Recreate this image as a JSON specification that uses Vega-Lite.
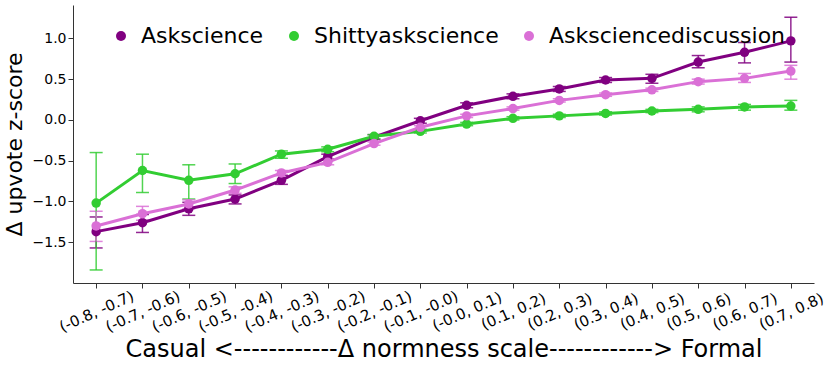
{
  "$schema": "https://vega.github.io/schema/vega-lite/v6.json",
  "width": 741,
  "height": 278,
  "autosize": {"type": "none"},
  "padding": {"left": 73, "top": 5, "right": 17, "bottom": 84},
  "config": {
    "font": "DejaVu Sans",
    "view": {"stroke": null},
    "axis": {"grid": false, "domainColor": "#333", "tickColor": "#333", "labelColor": "#000", "titleColor": "#000", "titleFontWeight": "normal", "domainWidth": 1, "tickWidth": 1, "tickSize": 5}
  },
  "data": {"values": [
    {"bin": "(-0.8, -0.7)", "s": "Askscience", "m": -1.37, "lo": -1.57, "hi": -1.19},
    {"bin": "(-0.7, -0.6)", "s": "Askscience", "m": -1.26, "lo": -1.38, "hi": -1.16},
    {"bin": "(-0.6, -0.5)", "s": "Askscience", "m": -1.09, "lo": -1.17, "hi": -1.01},
    {"bin": "(-0.5, -0.4)", "s": "Askscience", "m": -0.97, "lo": -1.03, "hi": -0.92},
    {"bin": "(-0.4, -0.3)", "s": "Askscience", "m": -0.74, "lo": -0.79, "hi": -0.68},
    {"bin": "(-0.3, -0.2)", "s": "Askscience", "m": -0.45, "lo": -0.48, "hi": -0.42},
    {"bin": "(-0.2, -0.1)", "s": "Askscience", "m": -0.21, "lo": -0.24, "hi": -0.18},
    {"bin": "(-0.1, -0.0)", "s": "Askscience", "m": -0.01, "lo": -0.04, "hi": 0.02},
    {"bin": "(-0.0, 0.1)", "s": "Askscience", "m": 0.18, "lo": 0.15, "hi": 0.21},
    {"bin": "(0.1, 0.2)", "s": "Askscience", "m": 0.29, "lo": 0.26, "hi": 0.32},
    {"bin": "(0.2, 0.3)", "s": "Askscience", "m": 0.38, "lo": 0.35, "hi": 0.41},
    {"bin": "(0.3, 0.4)", "s": "Askscience", "m": 0.49, "lo": 0.46, "hi": 0.52},
    {"bin": "(0.4, 0.5)", "s": "Askscience", "m": 0.51, "lo": 0.45, "hi": 0.56},
    {"bin": "(0.5, 0.6)", "s": "Askscience", "m": 0.71, "lo": 0.64, "hi": 0.79},
    {"bin": "(0.6, 0.7)", "s": "Askscience", "m": 0.83, "lo": 0.70, "hi": 0.95},
    {"bin": "(0.7, 0.8)", "s": "Askscience", "m": 0.97, "lo": 0.71, "hi": 1.26},
    {"bin": "(-0.8, -0.7)", "s": "Shittyaskscience", "m": -1.02, "lo": -1.84, "hi": -0.40},
    {"bin": "(-0.7, -0.6)", "s": "Shittyaskscience", "m": -0.62, "lo": -0.89, "hi": -0.42},
    {"bin": "(-0.6, -0.5)", "s": "Shittyaskscience", "m": -0.74, "lo": -0.97, "hi": -0.55},
    {"bin": "(-0.5, -0.4)", "s": "Shittyaskscience", "m": -0.66, "lo": -0.78, "hi": -0.54},
    {"bin": "(-0.4, -0.3)", "s": "Shittyaskscience", "m": -0.42, "lo": -0.47, "hi": -0.38},
    {"bin": "(-0.3, -0.2)", "s": "Shittyaskscience", "m": -0.36, "lo": -0.39, "hi": -0.33},
    {"bin": "(-0.2, -0.1)", "s": "Shittyaskscience", "m": -0.20, "lo": -0.23, "hi": -0.18},
    {"bin": "(-0.1, -0.0)", "s": "Shittyaskscience", "m": -0.14, "lo": -0.16, "hi": -0.12},
    {"bin": "(-0.0, 0.1)", "s": "Shittyaskscience", "m": -0.05, "lo": -0.07, "hi": -0.03},
    {"bin": "(0.1, 0.2)", "s": "Shittyaskscience", "m": 0.02, "lo": 0.0, "hi": 0.04},
    {"bin": "(0.2, 0.3)", "s": "Shittyaskscience", "m": 0.05, "lo": 0.03, "hi": 0.07},
    {"bin": "(0.3, 0.4)", "s": "Shittyaskscience", "m": 0.08, "lo": 0.06, "hi": 0.10},
    {"bin": "(0.4, 0.5)", "s": "Shittyaskscience", "m": 0.11, "lo": 0.09, "hi": 0.13},
    {"bin": "(0.5, 0.6)", "s": "Shittyaskscience", "m": 0.13, "lo": 0.10, "hi": 0.16},
    {"bin": "(0.6, 0.7)", "s": "Shittyaskscience", "m": 0.16, "lo": 0.12, "hi": 0.19},
    {"bin": "(0.7, 0.8)", "s": "Shittyaskscience", "m": 0.17, "lo": 0.12, "hi": 0.24},
    {"bin": "(-0.8, -0.7)", "s": "Asksciencediscussion", "m": -1.30, "lo": -1.49, "hi": -1.12},
    {"bin": "(-0.7, -0.6)", "s": "Asksciencediscussion", "m": -1.15, "lo": -1.23, "hi": -1.06},
    {"bin": "(-0.6, -0.5)", "s": "Asksciencediscussion", "m": -1.03, "lo": -1.09, "hi": -0.98},
    {"bin": "(-0.5, -0.4)", "s": "Asksciencediscussion", "m": -0.86, "lo": -0.90, "hi": -0.82},
    {"bin": "(-0.4, -0.3)", "s": "Asksciencediscussion", "m": -0.65, "lo": -0.68, "hi": -0.62},
    {"bin": "(-0.3, -0.2)", "s": "Asksciencediscussion", "m": -0.52, "lo": -0.55, "hi": -0.49},
    {"bin": "(-0.2, -0.1)", "s": "Asksciencediscussion", "m": -0.29, "lo": -0.31, "hi": -0.27},
    {"bin": "(-0.1, -0.0)", "s": "Asksciencediscussion", "m": -0.09, "lo": -0.11, "hi": -0.07},
    {"bin": "(-0.0, 0.1)", "s": "Asksciencediscussion", "m": 0.05, "lo": 0.03, "hi": 0.07},
    {"bin": "(0.1, 0.2)", "s": "Asksciencediscussion", "m": 0.14, "lo": 0.12, "hi": 0.16},
    {"bin": "(0.2, 0.3)", "s": "Asksciencediscussion", "m": 0.24, "lo": 0.22, "hi": 0.26},
    {"bin": "(0.3, 0.4)", "s": "Asksciencediscussion", "m": 0.31, "lo": 0.29, "hi": 0.33},
    {"bin": "(0.4, 0.5)", "s": "Asksciencediscussion", "m": 0.37, "lo": 0.35, "hi": 0.39},
    {"bin": "(0.5, 0.6)", "s": "Asksciencediscussion", "m": 0.47, "lo": 0.44, "hi": 0.50},
    {"bin": "(0.6, 0.7)", "s": "Asksciencediscussion", "m": 0.51, "lo": 0.46, "hi": 0.57},
    {"bin": "(0.7, 0.8)", "s": "Asksciencediscussion", "m": 0.60, "lo": 0.50, "hi": 0.67}
  ]},
  "encoding": {
    "x": {
      "field": "bin", "type": "nominal",
      "scale": {"type": "point", "padding": 0.5, "domain": ["(-0.8, -0.7)", "(-0.7, -0.6)", "(-0.6, -0.5)", "(-0.5, -0.4)", "(-0.4, -0.3)", "(-0.3, -0.2)", "(-0.2, -0.1)", "(-0.1, -0.0)", "(-0.0, 0.1)", "(0.1, 0.2)", "(0.2, 0.3)", "(0.3, 0.4)", "(0.4, 0.5)", "(0.5, 0.6)", "(0.6, 0.7)", "(0.7, 0.8)"]},
      "axis": {"title": "Casual <------------Δ normness scale------------> Formal", "titleFontSize": 24, "titlePadding": 3, "labelFontSize": 15, "labelAngle": -24, "labelAlign": "center", "labelBaseline": "middle", "labelPadding": 23, "labelOverlap": false}
    },
    "color": {
      "field": "s", "type": "nominal",
      "scale": {"domain": ["Askscience", "Shittyaskscience", "Asksciencediscussion"], "range": ["#800080", "#32cd32", "#da70d6"]},
      "legend": {"title": null, "orient": "none", "legendX": 37, "legendY": 20, "direction": "horizontal", "labelFontSize": 22, "labelLimit": 0, "symbolType": "circle", "symbolSize": 100, "labelOffset": 9, "columnPadding": 19, "padding": 0, "symbolStrokeWidth": 0, "labelColor": "#000",
        "encode": {"symbols": {"update": {"fill": {"scale": "color", "field": "value"}, "fillOpacity": {"value": 1}, "strokeWidth": {"value": 0}}}}}
    }
  },
  "layer": [
    {
      "mark": {"type": "rule", "color": "red", "strokeWidth": 1.5},
      "encoding": {"y": {"datum": 0, "type": "quantitative"}, "color": {"value": "red"}}
    },
    {
      "mark": {"type": "errorbar", "ticks": {"size": 13, "thickness": 1.5}, "thickness": 1.5, "opacity": 0.85},
      "encoding": {
        "y": {"field": "lo", "type": "quantitative", "title": "Δ upvote z-score"},
        "y2": {"field": "hi"}
      }
    },
    {
      "mark": {"type": "line", "strokeWidth": 3},
      "encoding": {
        "y": {"field": "m", "type": "quantitative", "title": "Δ upvote z-score"}
      }
    },
    {
      "mark": {"type": "point", "filled": true, "size": 90, "opacity": 1},
      "encoding": {
        "y": {
          "field": "m", "type": "quantitative", "title": "Δ upvote z-score",
          "scale": {"domain": [-2.0, 1.41], "nice": false, "zero": false},
          "axis": {"title": "Δ upvote z-score", "titleFontSize": 22, "titlePadding": 6, "labelFontSize": 14, "values": [-1.5, -1, -0.5, 0, 0.5, 1], "format": ".1f"}
        }
      }
    }
  ]
}
